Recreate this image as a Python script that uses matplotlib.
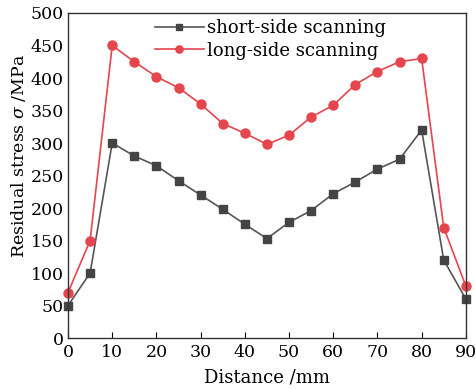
import matplotlib
matplotlib.use("Agg")
import matplotlib.pyplot as plt

distance = [0, 5, 10, 15, 20, 25, 30, 35, 40, 45, 50, 55, 60, 65, 70, 75, 80, 85, 90]
short_side = [50, 100, 300, 280, 265, 242, 220, 198, 175, 153, 178, 196, 222, 240, 260, 275, 320, 120, 60]
long_side = [70, 150, 450, 425, 402, 385, 360, 330, 315, 298, 312, 340, 358, 390, 410, 425, 430, 170, 80]

plt.rcParams['font.family'] = ['DejaVu Serif']
plt.rcParams['mathtext.fontset'] = 'dejavuserif'

fig = plt.figure(figsize=(4.77, 3.89), dpi=100)
ax = fig.add_axes([0.1426, 0.131, 0.834, 0.8356])

ax.plot(distance, short_side, color='#555555', marker='s', markersize=5.5,
        markerfacecolor='#444444', markeredgecolor='#444444', lw=1.2,
        label='short-side scanning', clip_on=False)
ax.plot(distance, long_side, color='#e5454d', marker='o', markersize=6.5,
        markerfacecolor='#e5454d', markeredgecolor='#e5454d', lw=1.2,
        label='long-side scanning', clip_on=False)

ax.set_xlim(0, 90)
ax.set_ylim(0, 500)
ax.set_xticks(range(0, 91, 10))
ax.set_yticks(range(0, 501, 50))
ax.tick_params(axis='x', direction='in', length=4, labelsize=12.5, pad=4)
ax.tick_params(axis='y', length=0, labelsize=12.5, pad=3)
for s in ax.spines.values():
    s.set_color('#333333')
    s.set_linewidth(1.0)

ax.set_xlabel('Distance /mm', fontsize=13, labelpad=6)
ax.set_ylabel(r'Residual stress $\sigma$ /MPa', fontsize=12.5)
ax.yaxis.set_label_coords(-0.1, 0.56)

leg = ax.legend(loc='upper left', bbox_to_anchor=(0.2, 1.003), frameon=False,
                fontsize=13, handlelength=2.7, handletextpad=0.2,
                labelspacing=0.25, borderaxespad=0, markerscale=0.8)

fig.savefig('out.png', dpi=100)
